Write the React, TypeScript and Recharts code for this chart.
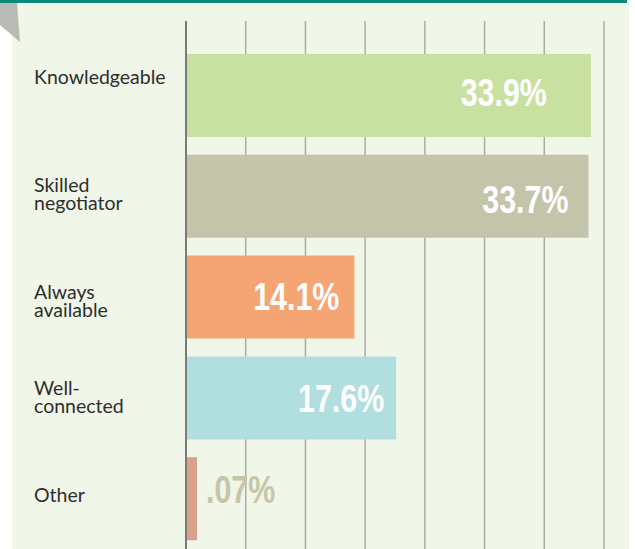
import React from "react";
import { BarChart, Bar, XAxis, YAxis, CartesianGrid, LabelList, Cell } from "recharts";

const categories = ["Knowledgeable", "Skilled\nnegotiator", "Always\navailable", "Well-\nconnected", "Other"];
const values = [33.9, 33.7, 14.1, 17.6, 0.07];
const valueLabels = ["33.9%", "33.7%", "14.1%", "17.6%", ".07%"];
const colors = ["#c8e0a0", "#c4c4aa", "#f5a573", "#b1dede", "#d8a189"];
const xTicks = [0, 5, 10, 15, 20, 25, 30, 35];

const data = categories.map((c, i) => ({ name: c, value: values[i], label: valueLabels[i] }));

const tickDy = [-18, -2, 4, -1, -4];
const labelDx = [44, 20, 15, 12, 0];
const labelDy = [-4, 3, -1, 0, -10];

const CategoryTick = (props: any) => {
  const { x, y, payload, index } = props;
  const lines = String(payload.value).split("\n");
  const lh = 17.5;
  const capH = 14;
  const h = capH + (lines.length - 1) * lh;
  const cy = y + (tickDy[index] || 0);
  const first = cy - h / 2 + capH;
  return (
    <text
      x={x - 152}
      y={first}
      textAnchor="start"
      fill="#2e2e2e"
      fontFamily="Lato, 'Noto Sans', sans-serif"
      fontSize={19.5}
    >
      {lines.map((l, i) => (
        <tspan key={i} x={x - 152} y={first + i * lh}>
          {l}
        </tspan>
      ))}
    </text>
  );
};

const ValueLabel = (props: any) => {
  const { x, y, width, height, index } = props;
  const cy = y + height / 2 + (labelDy[index] || 0);
  const inside = values[index] > 1;
  const tx = inside ? x + width - labelDx[index] : x + width + 9;
  return (
    <text
      transform={`translate(${tx},${cy + 14}) scale(0.8,1)`}
      x={0}
      y={0}
      textAnchor={inside ? "end" : "start"}
      fill={inside ? "#ffffff" : "#c5c6a8"}
      fontFamily="'Liberation Sans', Arial, sans-serif"
      fontWeight="bold"
      fontSize={38}
    >
      {valueLabels[index]}
    </text>
  );
};

export default function App() {
  return (
    <div style={{ position: "absolute", left: 0, top: 0, width: 635, height: 549, background: "#ffffff", overflow: "hidden" }}>
      <div style={{ position: "absolute", left: 12, top: 0, width: 617, height: 549, background: "#f0f6e8" }} />
      <div style={{ position: "absolute", left: 0, top: 0, width: 627, height: 3, background: "#0b897b" }} />
      <svg style={{ position: "absolute", left: 0, top: 0 }} width={30} height={50}>
        <polygon points="0,3 17,3 20,42 0,25" fill="#babbb7" />
      </svg>
      <div style={{ position: "absolute", left: 0, top: 0 }}>
        <BarChart
          width={635}
          height={549}
          data={data}
          layout="vertical"
          margin={{ top: 21, right: 31, bottom: 0, left: 0 }}
        >
          <CartesianGrid horizontal={false} vertical={true} stroke="#abacab" strokeWidth={1.5} />
          <XAxis type="number" domain={[0, 35]} ticks={xTicks} hide />
          <YAxis
            type="category"
            dataKey="name"
            width={186}
            tickSize={0}
            tickMargin={0}
            tickLine={false}
            axisLine={{ stroke: "#7a7a7a", strokeWidth: 2 }}
            padding={{ top: 24, bottom: 0 }}
            tick={<CategoryTick />}
            interval={0}
          />
          <Bar dataKey="value" barSize={83} minPointSize={11} isAnimationActive={false}>
            {data.map((d, i) => (
              <Cell key={i} fill={colors[i]} />
            ))}
            <LabelList dataKey="label" content={<ValueLabel />} />
          </Bar>
        </BarChart>
      </div>
    </div>
  );
}
